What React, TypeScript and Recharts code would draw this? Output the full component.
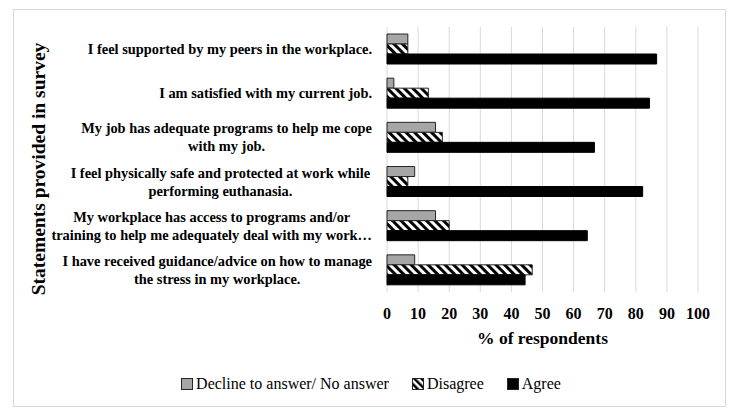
import React from 'react';
import { BarChart, Bar, XAxis, YAxis, CartesianGrid, Legend, Label } from 'recharts';

// survey statements, already split the way the chart wraps them
const statements: string[][] = [
  ['I feel supported by my peers in the workplace.'],
  ['I am satisfied with my current job.'],
  ['My job has adequate programs to help me cope', 'with my job.'],
  ['I  feel physically safe and protected at work while', 'performing euthanasia.'],
  ['My workplace has access to programs and/or', 'training to help me adequately deal with my work\u2026'],
  ['I have received guidance/advice on how to manage', 'the stress in my workplace.'],
];

const declineToAnswer = [6.7, 2.2, 15.6, 8.9, 15.6, 8.9];
const disagree = [6.7, 13.3, 17.8, 6.7, 20.0, 46.7];
const agree = [86.7, 84.4, 66.7, 82.2, 64.4, 44.4];

const xTicks = [0, 10, 20, 30, 40, 50, 60, 70, 80, 90, 100];

const seriesNames = ['Decline to answer/ No answer', 'Disagree', 'Agree'];

const FONT = "'Liberation Serif', 'Times New Roman', serif";

const data = statements.map((lines, i) => ({
  name: lines.join(' '),
  decline: declineToAnswer[i],
  disagree: disagree[i],
  agree: agree[i],
}));

const linesByName: Record<string, string[]> = {};
statements.forEach(l => { linesByName[l.join(' ')] = l; });

let ctx: CanvasRenderingContext2D | null = null;
const measure = (txt: string, font: string) => {
  if (!ctx) ctx = document.createElement('canvas').getContext('2d');
  if (!ctx) return txt.length * 6.5;
  ctx.font = font;
  return ctx.measureText(txt).width;
};

const StatementTick = (props: any) => {
  const { x, y, payload } = props;
  const lines = linesByName[payload.value] || [String(payload.value)];
  const font = `bold 14.4px ${FONT}`;
  const blockW = Math.max(...lines.map(l => measure(l, font)));
  const cx = x - blockW / 2;
  const lh = 18;
  return (
    <g>
      {lines.map((l, i) => (
        <text
          key={i}
          x={cx}
          y={y + (i - (lines.length - 1) / 2) * lh}
          textAnchor="middle"
          dominantBaseline="central"
          style={{ fontFamily: FONT, fontSize: 14.4, fontWeight: 'bold', fill: '#000' }}
        >
          {l}
        </text>
      ))}
    </g>
  );
};

const Swatch = ({ kind }: { kind: number }) => {
  const fill = kind === 0 ? '#a6a6a6' : kind === 1 ? 'url(#hatchLegend)' : '#000';
  return (
    <svg width={12} height={12} style={{ marginRight: 3, verticalAlign: 'middle' }}>
      <defs>
        <pattern id="hatchLegend" patternUnits="userSpaceOnUse" width={5} height={5} patternTransform="rotate(-45)">
          <rect x={0} y={0} width={5} height={5} fill="#fff" />
          <rect x={0} y={0} width={2.5} height={5} fill="#000" />
        </pattern>
      </defs>
      <rect x={0.5} y={0.5} width={11} height={11} fill={fill} stroke="#262626" strokeWidth={1} />
    </svg>
  );
};

const LegendContent = () => (
  <div style={{ display: 'flex', justifyContent: 'center', gap: 23, fontFamily: FONT, fontSize: 16, color: '#000', paddingLeft: 44 }}>
    {seriesNames.map((n, i) => (
      <span key={n} style={{ display: 'flex', alignItems: 'center', fontFamily: FONT }}>
        <Swatch kind={i} />
        {n}
      </span>
    ))}
  </div>
);

export default function App() {
  return (
    <div style={{ position: 'absolute', left: 0, top: 0, width: 740, height: 419, background: '#fff' }}>
      <div
        style={{
          position: 'absolute', left: 13, top: 9, width: 713, height: 398,
          border: '1px solid #d9d9d9', boxSizing: 'border-box',
        }}
      />
      <BarChart
        width={740}
        height={419}
        data={data}
        layout="vertical"
        margin={{ top: 27, right: 42, bottom: 26, left: 0 }}
        barSize={10}
        barGap={0}
      >
        <defs>
          <pattern id="hatch" patternUnits="userSpaceOnUse" width={6} height={6} patternTransform="rotate(-45)">
            <rect x={0} y={0} width={6} height={6} fill="#fff" />
            <rect x={0} y={0} width={3} height={6} fill="#000" />
          </pattern>
        </defs>
        <CartesianGrid horizontal={false} stroke="#d9d9d9" />
        <XAxis
          type="number"
          domain={[0, 100]}
          ticks={xTicks}
          axisLine={false}
          tickLine={false}
          tickSize={0}
          tickMargin={16}
          height={83}
          tick={{ fontFamily: FONT, fontSize: 16, fontWeight: 'bold', fill: '#000' }}
        >
          <Label
            value="% of respondents"
            position="insideTop"
            offset={40}
            style={{ fontFamily: FONT, fontSize: 17.5, fontWeight: 'bold', fill: '#000' }}
          />
        </XAxis>
        <YAxis
          type="category"
          dataKey="name"
          width={387}
          axisLine={false}
          tickLine={false}
          tickSize={0}
          tickMargin={15}
          tick={<StatementTick />}
          interval={0}
        >
          <Label
            content={() => (
              <text
                x={38}
                y={169}
                transform="rotate(-90 38 169)"
                textAnchor="middle"
                dominantBaseline="central"
                style={{ fontFamily: FONT, fontSize: 19.5, fontWeight: 'bold', fill: '#000' }}
              >
                Statements provided in survey
              </text>
            )}
          />
        </YAxis>
        <Legend verticalAlign="bottom" content={<LegendContent />} />
        <Bar dataKey="decline" name={seriesNames[0]} fill="#a6a6a6" stroke="#262626" strokeWidth={1} isAnimationActive={false} />
        <Bar dataKey="disagree" name={seriesNames[1]} fill="url(#hatch)" stroke="#262626" strokeWidth={1} isAnimationActive={false} />
        <Bar dataKey="agree" name={seriesNames[2]} fill="#000" stroke="#000" strokeWidth={1} isAnimationActive={false} />
      </BarChart>
    </div>
  );
}
